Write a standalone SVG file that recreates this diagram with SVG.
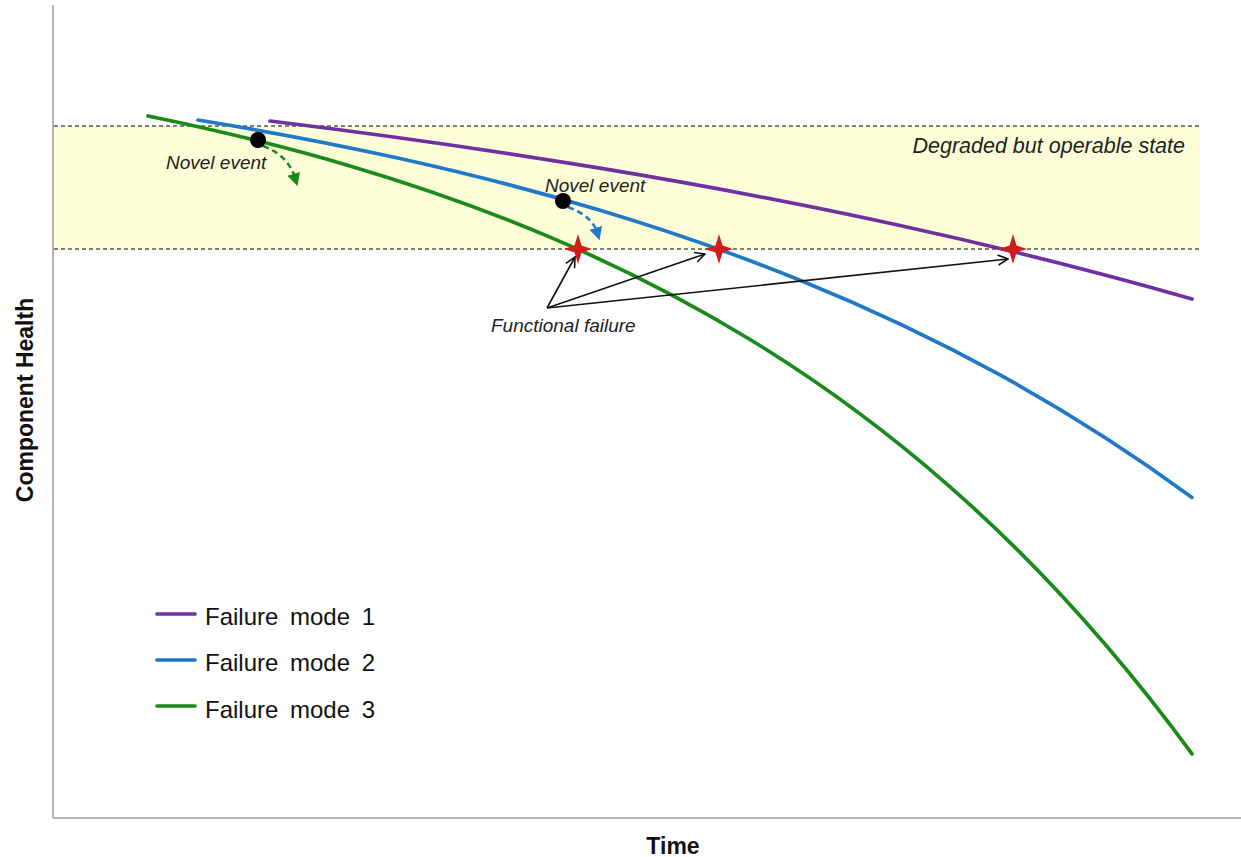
<svg xmlns="http://www.w3.org/2000/svg" width="1241" height="857" viewBox="0 0 1241 857">
<style>
.curve{fill:none;stroke-width:3.7;stroke-linecap:round}
.fm1{stroke:#7030a0}
.fm2{stroke:#1f78c8}
.fm3{stroke:#1a8a1a}
.thr{stroke:#555;stroke-width:1.5;stroke-dasharray:4 3;fill:none}
.axis{stroke:#b4b4b4;stroke-width:2;fill:none}
.lbl{font-family:"Liberation Sans",Arial,sans-serif;font-style:italic;font-size:19px;fill:#222}
.leg{font-family:"Liberation Sans",Arial,sans-serif;font-size:24px;fill:#111;word-spacing:5px}
.ax{font-family:"Liberation Sans",Arial,sans-serif;font-weight:bold;font-size:23px;fill:#111}
.star{fill:#d21c1c}
.ptr{fill:none;stroke:#111;stroke-width:1.6}
</style>
<defs>
<marker id="openArrow" markerUnits="userSpaceOnUse" viewBox="0 0 12 12" refX="11" refY="6" markerWidth="12" markerHeight="12" orient="auto">
<path d="M1,1 L11,6 L1,11" fill="none" stroke="#111" stroke-width="1.6"/>
</marker>
<marker id="greenHead" markerUnits="userSpaceOnUse" viewBox="0 0 12 12" refX="4" refY="6" markerWidth="13" markerHeight="13" orient="auto">
<path d="M0,0 L12,6 L0,12 z" fill="#1a8a1a"/>
</marker>
<marker id="blueHead" markerUnits="userSpaceOnUse" viewBox="0 0 12 12" refX="4" refY="6" markerWidth="13" markerHeight="13" orient="auto">
<path d="M0,0 L12,6 L0,12 z" fill="#1f78c8"/>
</marker>
</defs>
<rect width="1241" height="857" fill="#ffffff"/>
<g id="band">
<rect x="54" y="126" width="1146" height="123" fill="#fdfdd7"/>
<line class="thr" x1="54" y1="126" x2="1200" y2="126"/>
<line class="thr" x1="54" y1="249" x2="1200" y2="249"/>
<text class="lbl" x="1185" y="153" text-anchor="end" style="font-size:21.5px">Degraded but operable state</text>
</g>
<g id="axes">
<line class="axis" x1="53" y1="5" x2="53" y2="818"/>
<line class="axis" x1="53" y1="818" x2="1241" y2="818"/>
<text class="ax" x="673" y="854" text-anchor="middle">Time</text>
<text class="ax" transform="translate(33,400) rotate(-90)" text-anchor="middle">Component Health</text>
</g>
<g id="curves">
<path id="mode1" class="curve fm1" d="M270,121 C380,134.4 490,150 600,168.2 C700,184.8 800,203.6 900,225.5 C997.3,246.8 1094.7,271.1 1192,299"/>
<path id="mode2" class="curve fm2" d="M198,120 C265.3,131 332.7,143.6 400,158.5 C466.7,173.3 533.3,190.2 600,210.2 C666.7,230.2 733.3,253.2 800,280.2 C866.7,307.2 933.3,338.3 1000,374.9 C1064,410.1 1128,450.4 1192,497.4"/>
<path id="mode3" class="curve fm3" d="M148,116 C215.3,129.8 282.7,146 350,165.9 C416.7,185.6 483.3,208.8 550,237.1 C616.7,265.4 683.3,298.8 750,339.5 C816.7,380.2 883.3,428.2 950,486.8 C1030.7,557.7 1111.3,643.9 1192,753.9"/>
</g>
<g id="novel-event-1">
<path d="M263,146 Q288,155 295,178" fill="none" stroke="#1a8a1a" stroke-width="2.5" stroke-dasharray="6 4" marker-end="url(#greenHead)"/>
<circle cx="258" cy="140" r="8" fill="#000"/>
<text class="lbl" x="166" y="169">Novel event</text>
</g>
<g id="novel-event-2">
<path d="M568,207 Q592,216 597,232" fill="none" stroke="#1f78c8" stroke-width="2.5" stroke-dasharray="6 4" marker-end="url(#blueHead)"/>
<circle cx="563" cy="201" r="8" fill="#000"/>
<text class="lbl" x="545" y="192">Novel event</text>
</g>
<g id="failure-points">
<path class="star" d="M578,234 L581.5,245.5 L592,249 L581.5,252.5 L578,264 L574.5,252.5 L564,249 L574.5,245.5 Z"/>
<path class="star" d="M719,234 L722.5,245.5 L733,249 L722.5,252.5 L719,264 L715.5,252.5 L705,249 L715.5,245.5 Z"/>
<path class="star" d="M1013,234 L1016.5,245.5 L1027,249 L1016.5,252.5 L1013,264 L1009.5,252.5 L999,249 L1009.5,245.5 Z"/>
</g>
<g id="connectors">
<line class="ptr" x1="547" y1="308" x2="575" y2="257" marker-end="url(#openArrow)"/>
<line class="ptr" x1="547" y1="308" x2="705" y2="254" marker-end="url(#openArrow)"/>
<line class="ptr" x1="547" y1="308" x2="1008" y2="259" marker-end="url(#openArrow)"/>
</g>
<g id="functional-failure-label">
<text class="lbl" x="491" y="332">Functional failure</text>
</g>
<g id="legend">
<line class="curve fm1" x1="157" y1="614" x2="195" y2="614"/>
<text class="leg" x="205" y="625">Failure mode 1</text>
<line class="curve fm2" x1="157" y1="660" x2="195" y2="660"/>
<text class="leg" x="205" y="671">Failure mode 2</text>
<line class="curve fm3" x1="157" y1="706" x2="195" y2="706"/>
<text class="leg" x="205" y="718">Failure mode 3</text>
</g>
</svg>
